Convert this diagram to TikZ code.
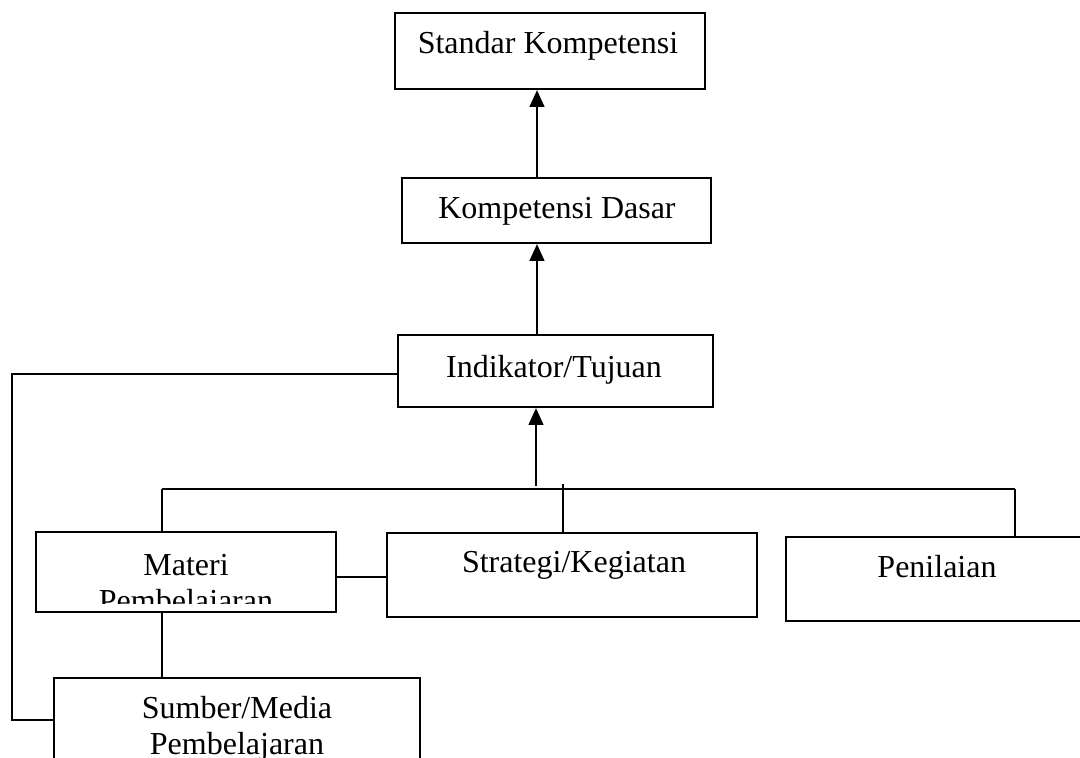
\documentclass[tikz,border=0pt]{standalone}
\usepackage{fontspec}
\setmainfont{Liberation Serif}
\usetikzlibrary{arrows.meta}

\begin{document}
\begin{tikzpicture}
      [x=0.375pt,y=-0.375pt,line width=0.8pt,
       box/.style={draw,rectangle,inner sep=0pt},
       txt/.style={inner sep=0pt,align=center,font=\fontsize{12}{13.5}\selectfont},
       arr/.style={-{Triangle[length=6.3pt,width=5.5pt]}}]

      \path[use as bounding box,clip] (0,0) rectangle (1080,758);

      % boxes
      \node[box,minimum width=310*0.375pt,minimum height=76*0.375pt]  (sk)  at (550,51)    {};
      \node[box,minimum width=309*0.375pt,minimum height=65*0.375pt]  (kd)  at (556.5,210.5) {};
      \node[box,minimum width=315*0.375pt,minimum height=72*0.375pt]  (ind) at (555.5,371) {};
      \node[box,minimum width=300*0.375pt,minimum height=80*0.375pt]  (mat) at (186,572)   {};
      \node[box,minimum width=370*0.375pt,minimum height=84*0.375pt]  (str) at (572,575)   {};
      \node[box,minimum width=310*0.375pt,minimum height=84*0.375pt]  (pen) at (941,579)   {};
      \node[box,minimum width=366*0.375pt,minimum height=122*0.375pt] (sum) at (237,739)   {};

      % texts
      \node[txt,anchor=base]  (sk-t)  at (548,53)  {Standar Kompetensi};
      \node[txt,anchor=base]  (kd-t)  at (557,218) {Kompetensi Dasar};
      \node[txt,anchor=base]  (ind-t) at (554,377) {Indikator/Tujuan};
      \node[txt,anchor=base]  (str-t) at (574,572) {Strategi/Kegiatan};
      \node[txt,anchor=base]  (pen-t) at (937,577) {Penilaian};
      \node[txt,anchor=north] (sum-t) at (237,695) {Sumber/Media\\Pembelajaran};
      \begin{scope}
            \clip (mat.north west) rectangle ([yshift=3.75pt]mat.south east);
            \node[txt,anchor=north] (mat-t) at (186,553) {Materi\\Pembelajaran};
      \end{scope}

      % connectors
      \coordinate (spine) at (537,0);
      \coordinate (bus)   at (0,489);
      \draw[arr] (spine |- kd.north) -- (spine |- sk.south);
      \draw[arr] (spine |- ind.north) -- (spine |- kd.south);
      \draw[arr] (536,486) -- (536,0 |- ind.south);
      \draw (162,0 |- bus) -- (1015,0 |- bus);
      \draw (162,0 |- bus) -- (162,0 |- mat.north);
      \draw (563,484) -- (563,0 |- str.north);
      \draw (1015,0 |- bus) -- (1015,0 |- pen.north);
      \draw (mat.east |- 0,577) -- (str.west |- 0,577);
      \draw (162,0 |- mat.south) -- (162,0 |- sum.north);
      \draw (ind.west |- 0,374) -| (12,720) -- (sum.west |- 0,720);
\end{tikzpicture}
\end{document}
